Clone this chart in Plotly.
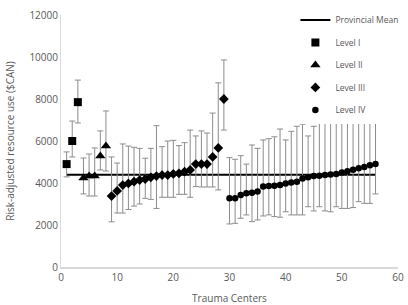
import plotly.graph_objects as go

# ---- data ----
provincial_mean = 4390

level1_x = [1, 2, 3]
level1_y = [4900, 6000, 7850]
level1_hi = [5480, 6950, 8900]
level1_lo = [4290, 5240, 6860]

level2_x = [4, 5, 6, 7, 8]
level2_y = [4240, 4330, 4330, 5290, 5760]
level2_hi = [5190, 5380, 5670, 6480, 7430]
level2_lo = [3480, 3380, 3380, 4620, 4570]

level3_x = list(range(9, 30))
level3_y = [3380, 3620, 3900, 3980, 4060, 4140, 4190, 4270, 4330, 4380, 4380,
            4430, 4460, 4540, 4620, 4900, 4900, 4900, 5240, 5670, 8000]
level3_hi = [5240, 4950, 5860, 5760, 5700, 5650, 5180, 5650, 6730, 5730, 6000,
             6030, 5780, 5920, 6520, 6240, 6480, 6380, 7330, 8770, 9860]
level3_lo = [2150, 2570, 2570, 2740, 2900, 3000, 3270, 3220, 2790, 3320, 3320,
             3320, 3460, 3460, 3320, 3830, 3810, 3810, 3810, 3670, 6520]

level4_x = list(range(30, 57))
level4_y = [3270, 3270, 3430, 3510, 3540, 3590, 3830, 3860, 3870, 3900, 3980,
            4020, 4060, 4220, 4270, 4330, 4350, 4380, 4410, 4430, 4500, 4560,
            4630, 4700, 4760, 4840, 4900]
level4_hi = [5210, 5130, 5300, 4900, 5810, 5650, 6050, 6110, 6200, 6570, 6050,
             6460, 6700, 6800, 6240, 6700, 7200, 7300, 7200, 7400, 7300, 7200,
             7400, 7300, 7400, 7500, 7600]
level4_lo = [2050, 2080, 2320, 2480, 2160, 2240, 2430, 2480, 2400, 2370, 2630,
             2480, 2480, 2480, 2870, 2670, 2870, 2670, 2630, 2870, 2790, 2790,
             2830, 3110, 3030, 3030, 3480]

y_ticks = [0, 2000, 4000, 6000, 8000, 10000, 12000]
y_tick_labels = ["0", "2000", "4000", "6000", "8000", "10000", "12000"]
x_ticks = [0, 10, 20, 30, 40, 50, 60]

GREY_TXT = "#595959"
ERR = "#8c8c8c"

fig = go.Figure()

all_x = level1_x + level2_x + level3_x + level4_x
fig.add_trace(go.Scatter(
    x=[min(all_x), max(all_x)], y=[provincial_mean, provincial_mean],
    mode="lines", line=dict(color="black", width=2),
    name="Provincial Mean", legendgroup="m"))

def add_level(xs, ys, hi, lo, name, symbol, size):
    fig.add_trace(go.Scatter(
        x=xs, y=ys, mode="markers", name=name, legendgroup=name,
        marker=dict(symbol=symbol, size=size, color="black"),
        error_y=dict(type="data", symmetric=False,
                     array=[h - v for h, v in zip(hi, ys)],
                     arrayminus=[v - l for l, v in zip(lo, ys)],
                     color=ERR, thickness=1, width=3)))

add_level(level1_x, level1_y, level1_hi, level1_lo, "Level I", "square", 8)
add_level(level2_x, level2_y, level2_hi, level2_lo, "Level II", "triangle-up", 9)
add_level(level3_x, level3_y, level3_hi, level3_lo, "Level III", "diamond", 7.5)
add_level(level4_x, level4_y, level4_hi, level4_lo, "Level IV", "circle", 6.5)

fig.update_layout(
    width=408, height=305,
    margin=dict(l=61, r=10, t=15, b=38, autoexpand=False),
    paper_bgcolor="white", plot_bgcolor="white",
    font=dict(family="Open Sans", size=10, color=GREY_TXT),
    showlegend=True,
    legend=dict(x=0.724, y=0.982, xref="container", yref="container",
                xanchor="left", yanchor="top",
                bgcolor="white", font=dict(size=8.5, color=GREY_TXT),
                traceorder="grouped", tracegroupgap=3.5,
                itemwidth=30),
    xaxis=dict(range=[0, 60], tickvals=x_ticks, showgrid=False, zeroline=False,
               showline=True, linecolor="#d9d9d9", linewidth=1.5, ticks="",
               title=dict(text="Trauma Centers", standoff=12,
                          font=dict(size=10, color=GREY_TXT))),
    yaxis=dict(range=[0, 12000], tickvals=y_ticks, ticktext=y_tick_labels,
               showgrid=False, zeroline=False,
               showline=True, linecolor="#d9d9d9", linewidth=1, ticks="",
               title=dict(text="Risk-adjusted resource use ($CAN)", standoff=12,
                          font=dict(size=10, color=GREY_TXT))),
)

fig.write_html("out.html",
               config={"displayModeBar": False},
               post_script="document.body.style.margin='0';")
